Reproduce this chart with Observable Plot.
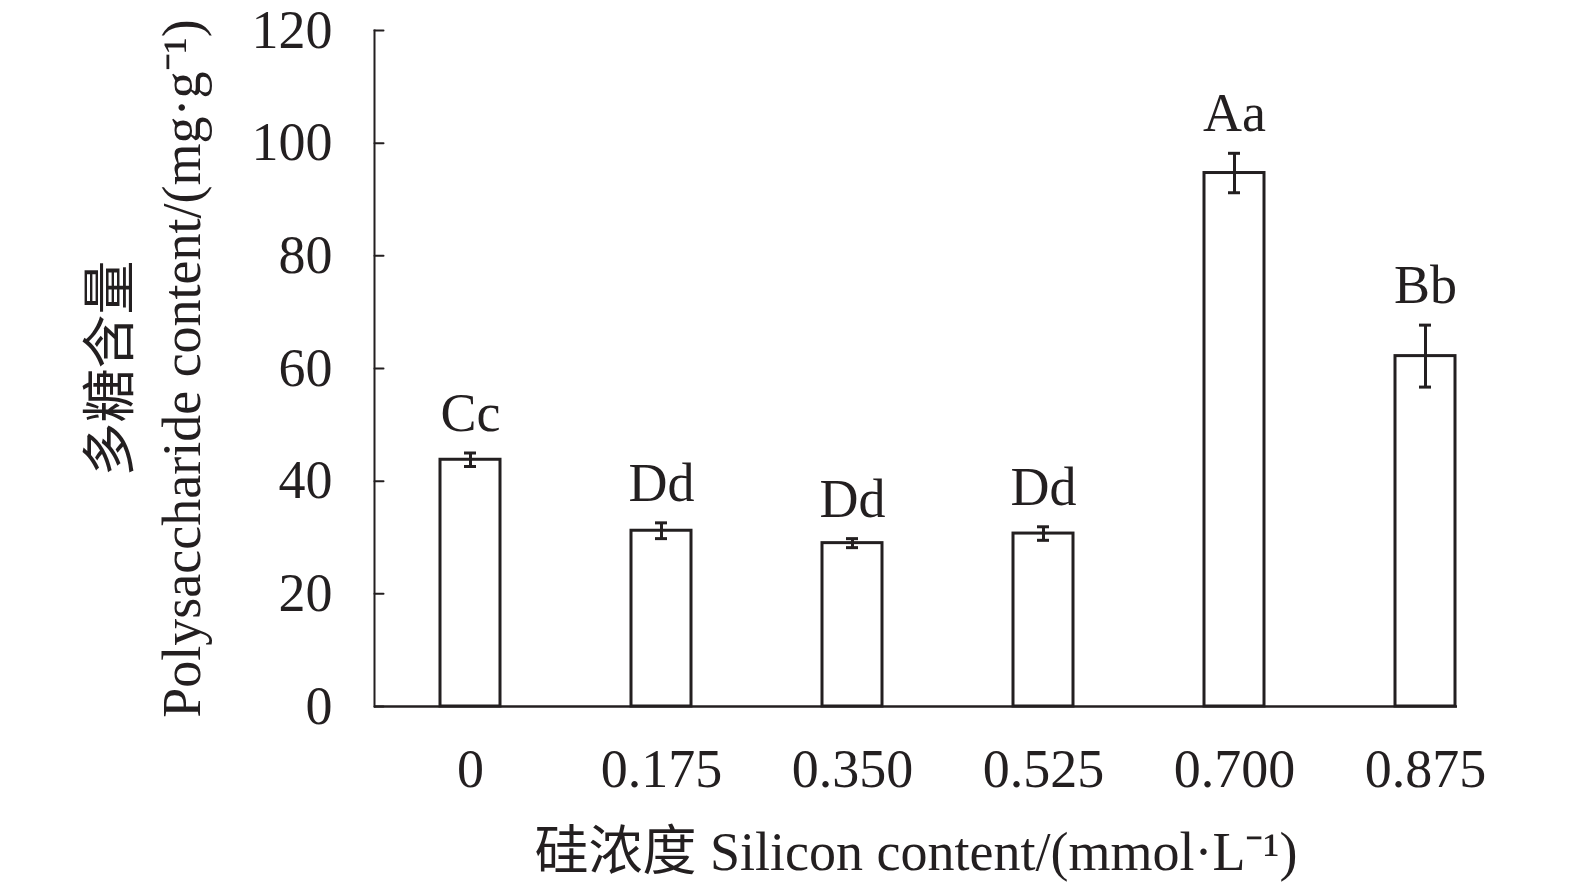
<!DOCTYPE html>
<html>
<head>
<meta charset="utf-8">
<script src="https://cdn.jsdelivr.net/npm/d3@7"></script>
<script src="https://cdn.jsdelivr.net/npm/@observablehq/plot@0.6"></script>
<style>
  html, body { margin: 0; padding: 0; background: #ffffff; }
  #chart svg { display: block; }
</style>
</head>
<body>
<div id="chart"></div>
<script>
const concentrations = ["0", "0.175", "0.350", "0.525", "0.700", "0.875"];
const means = [43.8, 31.2, 29.0, 30.7, 94.7, 62.2];
const errors = [1.2, 1.4, 0.8, 1.2, 3.5, 5.5];
const letters = ["Cc", "Dd", "Dd", "Dd", "Aa", "Bb"];
const yTicks = [0, 20, 40, 60, 80, 100, 120];
const xTitle = "硅浓度 Silicon content/(mmol·L⁻¹)";
const yTitleCn = "多糖含量";
const yTitleEn = "Polysaccharide content/(mg·g⁻¹)";

const data = concentrations.map((c, i) => ({c, m: means[i], e: errors[i], lab: letters[i]}));

const ink = "#231f20";
const font = "'Liberation Serif', 'Times New Roman', 'Noto Sans CJK SC', serif";
const fs = 54;

const tickShape = {draw(ctx, l) { ctx.moveTo(0, 0); ctx.lineTo(0, -l); }};

const chart = Plot.plot({
  width: 1575,
  height: 889,
  marginLeft: 374,
  marginRight: 118,
  marginTop: 30,
  marginBottom: 183,
  style: {fontFamily: font, fontSize: fs + "px", background: "#ffffff", color: ink},
  x: {domain: concentrations, range: [439, 1457], paddingInner: 0.685, paddingOuter: 0, align: 0.5},
  y: {domain: [0, 120]},
  marks: [
    Plot.barY(data, {x: "c", y: "m", fill: "#ffffff", stroke: ink, strokeWidth: 3}),
    Plot.ruleX(data, {x: "c", y1: d => d.m - d.e, y2: d => d.m + d.e, stroke: ink, strokeWidth: 3}),
    Plot.tickY(data, {x: "c", y: d => d.m + d.e, insetLeft: 24, insetRight: 24, stroke: ink, strokeWidth: 3}),
    Plot.tickY(data, {x: "c", y: d => d.m - d.e, insetLeft: 24, insetRight: 24, stroke: ink, strokeWidth: 3}),
    Plot.text(data, {x: "c", y: d => d.m + d.e, text: "lab", dy: -22, lineAnchor: "bottom", fontSize: fs, fill: ink}),
    Plot.vector(yTicks, {y: d => d, frameAnchor: "left", length: 9, rotate: 90, anchor: "start", shape: tickShape, stroke: ink, strokeWidth: 2}),
    Plot.axisY(yTicks, {tickSize: 0, tickPadding: 42, fontSize: fs, label: null, fill: ink}),
    Plot.axisX({tickSize: 0, tickPadding: 42, fontSize: fs, label: null, fill: ink}),
    Plot.frame({anchor: "left", stroke: ink, strokeWidth: 2}),
    Plot.ruleY([0], {stroke: ink, strokeWidth: 2.5}),
    Plot.text([xTitle], {frameAnchor: "bottom", dy: 163, lineAnchor: "bottom", textAnchor: "middle", fontSize: fs, fill: ink, text: d => d}),
    Plot.text([yTitleCn], {frameAnchor: "left", dx: -263, rotate: -90, lineAnchor: "middle", textAnchor: "middle", fontSize: fs, fill: ink, text: d => d}),
    Plot.text([yTitleEn], {frameAnchor: "left", dx: -192, rotate: -90, lineAnchor: "middle", textAnchor: "middle", fontSize: fs, fill: ink, text: d => d})
  ]
});
document.getElementById("chart").appendChild(chart);
</script>
</body>
</html>
